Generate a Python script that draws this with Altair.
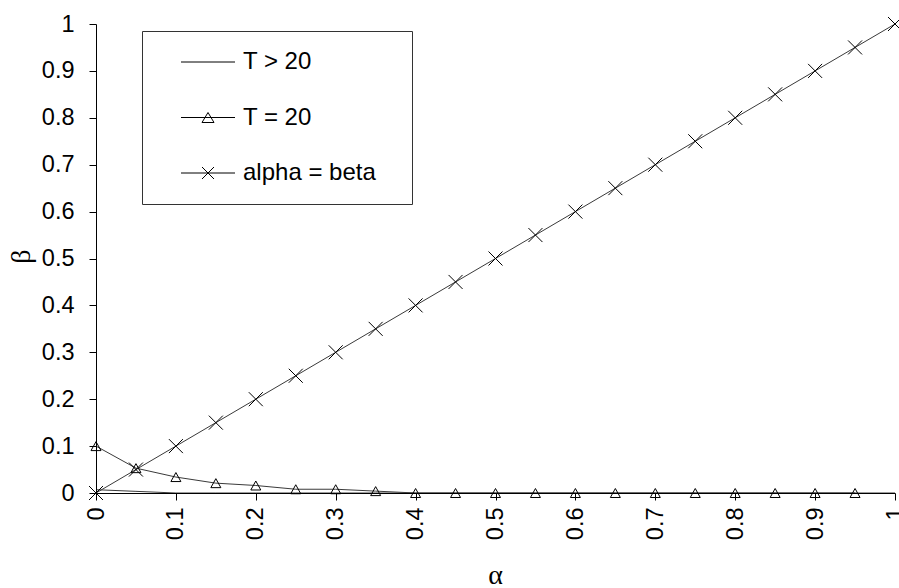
import altair as alt
import pandas as pd

# ---- data ----
alpha = [0.0, 0.05, 0.1, 0.15, 0.2, 0.25, 0.3, 0.35, 0.4, 0.45, 0.5,
         0.55, 0.6, 0.65, 0.7, 0.75, 0.8, 0.85, 0.9, 0.95, 1.0]
t_gt20 = [0.007, 0.0035, 0.0, 0.0, 0.0, 0.0, 0.0, 0.0, 0.0, 0.0, 0.0,
          0.0, 0.0, 0.0, 0.0, 0.0, 0.0, 0.0, 0.0, 0.0, 0.0]
alpha_t20 = [0.0, 0.05, 0.1, 0.15, 0.2, 0.25, 0.3, 0.35, 0.4, 0.45,
             0.5, 0.55, 0.6, 0.65, 0.7, 0.75, 0.8, 0.85, 0.9, 0.95]
t_eq20 = [0.1, 0.053, 0.034, 0.021, 0.016, 0.008, 0.008, 0.004, 0.0, 0.0,
          0.0, 0.0, 0.0, 0.0, 0.0, 0.0, 0.0, 0.0, 0.0, 0.0]
alpha_eq_beta = [0.0, 0.05, 0.1, 0.15, 0.2, 0.25, 0.3, 0.35, 0.4, 0.45, 0.5,
                 0.55, 0.6, 0.65, 0.7, 0.75, 0.8, 0.85, 0.9, 0.95, 1.0]
series_names = ["T > 20", "T = 20", "alpha = beta"]
x_ticks = [0.0, 0.05, 0.1, 0.15, 0.2, 0.25, 0.3, 0.35, 0.4, 0.45, 0.5,
           0.55, 0.6, 0.65, 0.7, 0.75, 0.8, 0.85, 0.9, 0.95, 1.0]
y_ticks = [0.0, 0.1, 0.2, 0.3, 0.4, 0.5, 0.6, 0.7, 0.8, 0.9, 1.0]

rows = []
for a, b in zip(alpha, t_gt20):
    rows.append({"alpha": a, "beta": b, "series": series_names[0]})
for a, b in zip(alpha_t20, t_eq20):
    rows.append({"alpha": a, "beta": b, "series": series_names[1]})
for a, b in zip(alpha, alpha_eq_beta):
    rows.append({"alpha": a, "beta": b, "series": series_names[2]})
df = pd.DataFrame(rows)

# marker shapes (plot) and composite legend symbols (line + marker)
tri_path = "M-1,0.9H1L0,-0.9Z"
x_path = "M-1.4,-1.4L1.4,1.4M-1.4,1.4L1.4,-1.4"
pad_right = "M20.0,0"  # invisible move, widens the legend box on the right
leg_line = "M-1,0H4.4" + pad_right
leg_tri = "M-1,0H4.4M1.1,0.5H2.3L1.7,-0.5Z" + pad_right
leg_x = "M-1,0H4.4M1.1,-0.6L2.3,0.6M1.1,0.6L2.3,-0.6" + pad_right

FONT = "Liberation Sans"
SERIF = "Liberation Serif"

x_scale = alt.Scale(domain=[0, 1], nice=False, zero=False)
y_scale = alt.Scale(domain=[0, 1], nice=False)

x_axis = alt.Axis(
    values=x_ticks,
    labelExpr="(round(datum.value*100) % 10 == 0) ? format(datum.value, '~g') : ''",
    labelAngle=-90, labelFontSize=23.5, labelFont=FONT, labelColor="black",
    labelPadding=7, labelFlush=False, labelOverlap=False,
    tickSize=7, tickColor="black", domainColor="black", grid=False,
    title="α", titleFont=SERIF, titleFontSize=28, titleFontWeight="normal",
    titleColor="black", titleX=399, titleY=82, titleBaseline="middle",
    titleAlign="center", zindex=1,
)
y_axis = alt.Axis(
    values=y_ticks, format="~g",
    labelFontSize=23.5, labelFont=FONT, labelColor="black",
    labelPadding=15, labelFlush=False, labelOverlap=False,
    tickSize=7, tickColor="black", domainColor="black", grid=False,
    title="β", titleFont=SERIF, titleFontSize=28, titleFontWeight="normal",
    titleColor="black", titleX=-75, titleY=232, titleBaseline="middle",
    titleAlign="center", titleAngle=-90, zindex=1,
)

base = alt.Chart(df)

lines = base.mark_line(color="#3a3a3a", strokeWidth=1).encode(
    x=alt.X("alpha:Q", scale=x_scale, axis=x_axis),
    y=alt.Y("beta:Q", scale=y_scale, axis=y_axis),
    detail="series:N",
    order="alpha:Q",
)

points = base.transform_filter(
    alt.datum.series != "T > 20"
).mark_point(filled=False, color="black", size=100, strokeWidth=1, opacity=1).encode(
    x=alt.X("alpha:Q", scale=x_scale),
    y=alt.Y("beta:Q", scale=y_scale),
    shape=alt.Shape("series:N",
                    scale=alt.Scale(domain=["T = 20", "alpha = beta"],
                                    range=[tri_path, x_path]),
                    legend=None),
)

legend_layer = base.mark_point(filled=False, color="black", size=400,
                               strokeWidth=1, opacity=0).encode(
    x=alt.X("alpha:Q", scale=x_scale),
    y=alt.Y("beta:Q", scale=y_scale),
    shape=alt.Shape(
        "series:N",
        sort=series_names,
        scale=alt.Scale(domain=series_names, range=[leg_line, leg_tri, leg_x]),
        legend=alt.Legend(
            title=None, orient="none", legendX=46, legendY=7,
            direction="vertical",
            padding=19, symbolOffset=18, labelOffset=40, rowPadding=31.5,
            symbolSize=400, symbolStrokeWidth=1, symbolStrokeColor="black",
            symbolFillColor="transparent", symbolOpacity=1,
            labelFont=FONT, labelFontSize=24, labelColor="black",
            labelLimit=400,
            fillColor="white", strokeColor="#333333",
        ),
    ),
)

chart = alt.layer(lines, points, legend_layer).resolve_scale(
    shape="independent"
).properties(
    width=799, height=469,
    autosize=alt.AutoSizeParams(type="none"),
    padding={"left": 96, "top": 24, "right": 4, "bottom": 95},
    background="white",
).configure_view(stroke=None)

chart.save("out.html", embed_options={"renderer": "svg", "actions": False})
